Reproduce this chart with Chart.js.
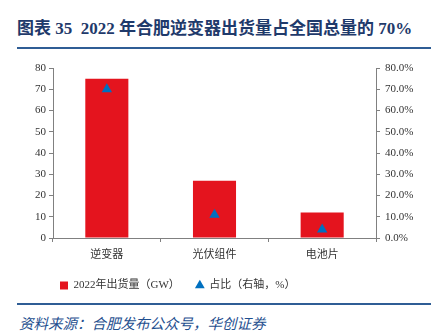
<!DOCTYPE html>
<html>
<head>
<meta charset="utf-8">
<script src="https://cdn.jsdelivr.net/npm/chart.js@4.4.1/dist/chart.umd.min.js"></script>
<style>
  body { margin: 0; width: 441px; height: 334px; background: #fff; position: relative; overflow: hidden; }
  .title { position: absolute; left: 17px; top: 14px; font: bold 17px "Liberation Serif", "Noto Sans CJK SC", serif; color: #1f3a6b; white-space: nowrap; }
  .rule { position: absolute; left: 17px; width: 414px; height: 2px; background: #2f5d95; }
  .source { position: absolute; left: 19px; top: 312px; font: italic 14.5px "Liberation Serif", "Noto Sans CJK SC", serif; color: #1f4f8f; white-space: nowrap; }
  #wrap { position: absolute; left: 0; top: 50px; width: 441px; height: 251px; }
</style>
</head>
<body>
<div class="title">图表 35&nbsp; 2022 年合肥逆变器出货量占全国总量的 70%</div>
<div class="rule" style="top:47px"></div>
<div id="wrap"><canvas id="chart"></canvas></div>
<div class="rule" style="top:303px"></div>
<div class="source">资料来源：合肥发布公众号，华创证券</div>
<script>
const categories = ['逆变器', '光伏组件', '电池片'];
const shipments = [75, 27, 12];      // 2022年出货量（GW）
const sharePct = [70, 11, 4];         // 占比（右轴，%）
const leftTicks = [0, 10, 20, 30, 40, 50, 60, 70, 80];

const red = 'rgb(228, 20, 30)';
const blue = 'rgb(0, 112, 192)';
const axisColor = '#808080';
const tickFont = { family: '"Liberation Serif", serif', size: 11 };

// the legend in the source sits left of centre
const shiftLegend = {
  id: 'shiftLegend',
  afterLayout(chart) {
    chart.legend.left = 44;
  },
};

const ctx = document.getElementById('chart');
new Chart(ctx, {
  data: {
    labels: categories,
    datasets: [
      {
        type: 'line',
        label: '占比（右轴，%）',
        data: sharePct,
        yAxisID: 'y1',
        showLine: false,
        pointStyle: 'triangle',
        pointRadius: 6,
        pointHoverRadius: 6,
        backgroundColor: blue,
        borderColor: blue,
        borderWidth: 0,
        order: 1,
      },
      {
        type: 'bar',
        label: '2022年出货量（GW）',
        data: shipments,
        yAxisID: 'y',
        backgroundColor: red,
        borderWidth: 0,
        barPercentage: 0.4,
        categoryPercentage: 1,
        pointStyle: 'rect',
        order: 2,
      },
    ],
  },
  plugins: [shiftLegend],
  options: {
    responsive: true,
    maintainAspectRatio: false,
    animation: false,
    layout: { padding: { top: 18, left: 0, right: 0, bottom: 0 } },
    plugins: {
      tooltip: { enabled: false },
      legend: {
        position: 'bottom',
        align: 'start',
        reverse: true,
        labels: {
          usePointStyle: true,
          boxWidth: 8,
          boxHeight: 8,
          padding: 16,
          color: '#333',
          font: { family: '"Liberation Serif", "Noto Sans CJK SC", serif', size: 11 },
        },
      },
    },
    scales: {
      x: {
        grid: { display: true, drawOnChartArea: false, offset: true, tickLength: 4, color: axisColor },
        border: { color: axisColor },
        ticks: { color: '#333', font: { family: '"Noto Sans CJK SC", sans-serif', size: 11 }, padding: 5 },
        afterFit: (s) => { s.height = 26; },
      },
      y: {
        position: 'left',
        min: 0,
        max: 80,
        afterBuildTicks: (s) => { s.ticks = leftTicks.map((v) => ({ value: v })); },
        grid: { display: true, drawOnChartArea: false, tickLength: 4, color: axisColor },
        border: { color: axisColor },
        ticks: { color: '#333', font: tickFont, padding: 3 },
        afterFit: (s) => { s.width = 53; },
      },
      y1: {
        position: 'right',
        min: 0,
        max: 80,
        afterBuildTicks: (s) => { s.ticks = leftTicks.map((v) => ({ value: v })); },
        grid: { display: true, drawOnChartArea: false, tickLength: 4, color: axisColor },
        border: { color: axisColor },
        ticks: { color: '#333', font: tickFont, padding: 5, callback: (v) => v.toFixed(1) + '%' },
        afterFit: (s) => { s.width = 65; },
      },
    },
  },
});
</script>
</body>
</html>
